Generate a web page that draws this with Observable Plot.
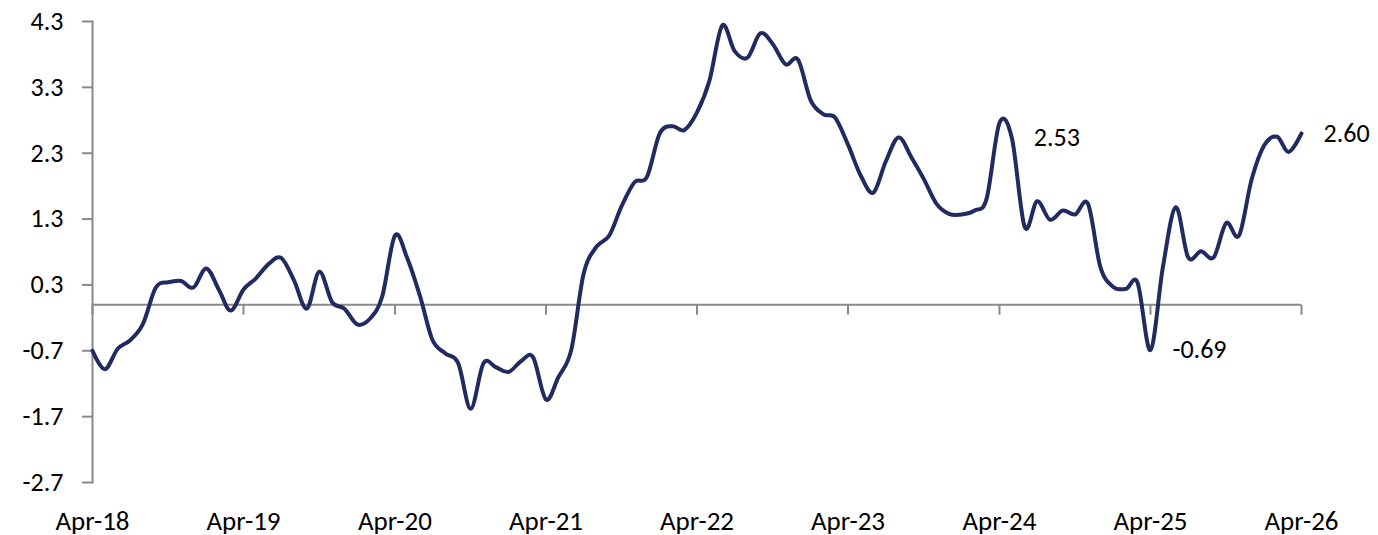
<!DOCTYPE html>
<html>
<head>
<meta charset="utf-8">
<script src="https://cdn.jsdelivr.net/npm/d3@7"></script>
<script src="https://cdn.jsdelivr.net/npm/@observablehq/plot@0.6"></script>
<style>
  html, body { margin: 0; padding: 0; background: #fff; }
  #chart svg { display: block; overflow: visible; }
</style>
</head>
<body>
<div id="chart"></div>
<script>
// Monthly series, Apr-18 .. Apr-26
const firstMonth = "2018-04";
const lastMonth = "2026-04";
const values = [
  -0.70, -0.98, -0.67, -0.54, -0.29, 0.26, 0.34, 0.36, 0.26, 0.55, 0.22, -0.09,   // Apr-18 .. Mar-19
  0.23, 0.40, 0.62, 0.71, 0.37, -0.06, 0.50, 0.04, -0.06, -0.30, -0.21, 0.12,     // Apr-19 .. Mar-20
  1.05, 0.70, 0.12, -0.54, -0.74, -0.89, -1.58, -0.89, -0.95, -1.02, -0.85, -0.80, // Apr-20 .. Mar-21
  -1.44, -1.10, -0.69, 0.47, 0.88, 1.05, 1.50, 1.86, 1.94, 2.60, 2.71, 2.65,      // Apr-21 .. Mar-22
  2.92, 3.40, 4.24, 3.85, 3.75, 4.12, 3.96, 3.65, 3.72, 3.10, 2.89, 2.84,         // Apr-22 .. Mar-23
  2.43, 1.97, 1.70, 2.17, 2.54, 2.24, 1.91, 1.53, 1.38, 1.37, 1.43, 1.61,         // Apr-23 .. Mar-24
  2.76, 2.53, 1.18, 1.57, 1.29, 1.43, 1.37, 1.53, 0.57, 0.27, 0.24, 0.33,         // Apr-24 .. Mar-25
  -0.69, 0.57, 1.48, 0.72, 0.81, 0.72, 1.24, 1.05, 1.89, 2.42, 2.55, 2.32,        // Apr-25 .. Mar-26
  2.60                                                                            // Apr-26
];

// Axis ticks
const yTicks = [-2.7, -1.7, -0.7, 0.3, 1.3, 2.3, 3.3, 4.3];
const xTickLabels = ["Apr-18", "Apr-19", "Apr-20", "Apr-21", "Apr-22", "Apr-23", "Apr-24", "Apr-25", "Apr-26"];
const xTickMonths = ["2018-04", "2019-04", "2020-04", "2021-04", "2022-04", "2023-04", "2024-04", "2025-04", "2026-04"];

// Data labels
const labelMonths = ["2024-05", "2025-04", "2026-04"];
const labelTexts = ["2.53", "-0.69", "2.60"];

// ---- build table ----
const parseMonth = d3.utcParse("%Y-%m");
const start = parseMonth(firstMonth);
const months = d3.utcMonth.range(start, d3.utcMonth.offset(parseMonth(lastMonth), 1));
const data = months.map((date, i) => ({date, value: values[i]}));
const tickDates = xTickMonths.map(parseMonth);
const labelData = labelMonths.map((m, i) => {
  const date = parseMonth(m);
  const idx = d3.utcMonth.count(start, date);
  return {date, value: values[idx], text: labelTexts[i]};
});

const axisGrey = "#898989";
const lineColor = "#222B5F";
const font = "Carlito, Calibri, Lato, 'Liberation Sans', sans-serif";

// small vertical tick symbol hanging below the zero line
const downTick = {
  draw(context) {
    context.moveTo(0, 0);
    context.lineTo(0, 10);
  }
};

const chart = Plot.plot({
  width: 1378,
  height: 535,
  marginLeft: 92,
  marginRight: 77,
  marginTop: 21,
  marginBottom: 53,
  style: {fontFamily: font, fontSize: "26px", color: "#000", background: "#fff"},
  x: {type: "utc", domain: [tickDates[0], tickDates[tickDates.length - 1]]},
  y: {domain: [-2.7, 4.3]},
  marks: [
    Plot.frame({anchor: "left", stroke: axisGrey, strokeWidth: 2}),
    Plot.axisY(yTicks, {
      tickSize: 10, tickPadding: 19, stroke: axisGrey, strokeWidth: 2,
      fill: "#000", fontSize: 26, tickFormat: d => d.toFixed(1), label: null
    }),
    Plot.ruleY([0], {stroke: axisGrey, strokeWidth: 2}),
    Plot.dot(tickDates, {x: d => d, y: () => 0, symbol: downTick, stroke: axisGrey, strokeWidth: 2, r: 5}),
    Plot.axisX(tickDates, {
      tickSize: 0, tickPadding: 28, fill: "#000", fontSize: 27,
      tickFormat: (d) => xTickLabels[tickDates.findIndex(t => +t === +d)], label: null
    }),
    Plot.line(data, {x: "date", y: "value", stroke: lineColor, strokeWidth: 4, curve: "cardinal"}),
    Plot.text(labelData, {x: "date", y: "value", text: "text", textAnchor: "start", dx: 22, fontSize: 26, fill: "#000"})
  ]
});

document.getElementById("chart").appendChild(chart);
</script>
</body>
</html>
